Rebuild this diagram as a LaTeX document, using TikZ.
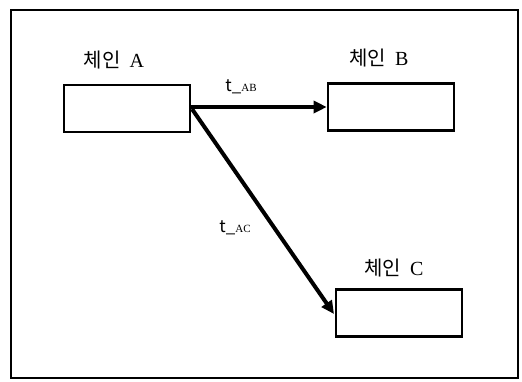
\documentclass[tikz,border=0pt]{standalone}
\usepackage{fontspec}
\setmainfont{Noto Sans CJK KR}
\newfontfamily\latinserif{Liberation Serif}
\usetikzlibrary{arrows.meta}
\begin{document}
\begin{tikzpicture}[x=1pt,y=-1pt,
  chainbox/.style={draw=black,line width=2.6pt,minimum width=126pt,minimum height=47pt,inner sep=0pt,fill=white},
  chainlabel/.style={font=\fontsize{20}{20}\selectfont,inner sep=0pt},
  edgelabel/.style={inner sep=0pt},
  conn/.style={line width=4pt,-{Triangle[length=13pt,width=12pt]}}]
\useasboundingbox (0,0) rectangle (522,381);
\draw[line width=2.8pt] (11,10) rectangle (518,378);
\node[chainbox] (A) at (127,108.5) {};
\node[chainbox] (B) at (391,107) {};
\node[chainbox] (C) at (399,313) {};
\node[chainlabel] (la) at (114,60) {체인\ \ {\latinserif A}};
\node[chainlabel] (lb) at (379,58) {체인\ \ {\latinserif B}};
\node[chainlabel] (lc) at (394,268) {체인\ \ {\latinserif C}};
\coordinate (As) at (191,107);
\coordinate (As2) at (192,109);
\coordinate (Ce) at (334,314);
\draw[conn] (As) -- (B.west);
\draw[conn] (As2) -- (Ce);
\node[edgelabel] (tab) at (241,87) {{\fontsize{17}{17}\selectfont t\_}{\latinserif\fontsize{11}{11}\selectfont AB}};
\node[edgelabel] (tac) at (235,228) {{\fontsize{17}{17}\selectfont t\_}{\latinserif\fontsize{11}{11}\selectfont AC}};
\end{tikzpicture}
\end{document}
